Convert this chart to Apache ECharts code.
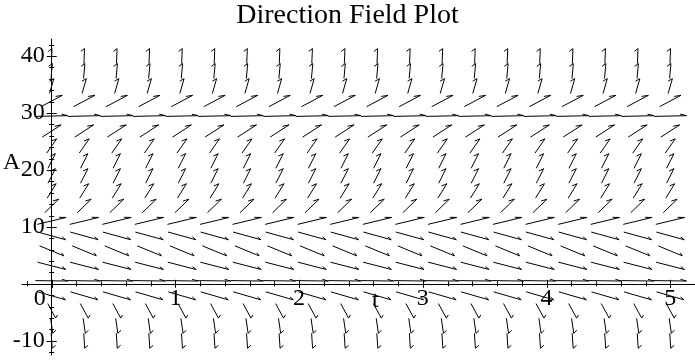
<!DOCTYPE html>
<html>
<head>
<meta charset="utf-8">
<title>Direction Field Plot</title>
<script src="https://cdn.jsdelivr.net/npm/echarts@6/dist/echarts.min.js"></script>
<style>
  html, body { margin: 0; padding: 0; background: #fff; }
  #chart { width: 695px; height: 361px; }
</style>
</head>
<body>
<div id="chart"></div>
<script>
// Sample times of the arrow columns
const tValues = [0, 0.263, 0.526, 0.789, 1.053, 1.316, 1.579, 1.842, 2.105, 2.368,
                 2.632, 2.895, 3.158, 3.421, 3.684, 3.947, 4.211, 4.474, 4.737, 5];
// Sample levels of A for the arrow rows
const aValues = [-10, -7.37, -4.74, -2.11, 0.53, 3.16, 5.79, 8.42, 11.05, 13.68,
                 16.32, 18.95, 21.58, 24.21, 26.84, 29.47, 32.11, 34.74, 37.37, 40];
// dA/dt on each row (the field does not depend on t)
const slopes = [-330, -150, -40, -6.3, -0.3, -5.6, -9, -6, 5.2, 21,
                35, 43, 43, 31, 14, 0.5, 11.5, 76, 235, 540];
// Tick labels
const tTickLabels = [0, 1, 2, 3, 4, 5];
const aTickLabels = [-10, 10, 20, 30, 40];

const T_MIN = -0.24, T_MAX = 5.2;
const A_MIN = -12.5, A_MAX = 43;
const GRID = { left: 22, right: 0, top: 39, bottom: 6 };
const W = 695, H = 361;
const DT = (tValues[tValues.length - 1] - tValues[0]) / (tValues.length - 1);
const DA = (aValues[aValues.length - 1] - aValues[0]) / (aValues.length - 1);
const ARROW_LEN = 1.0;   // arrow length, in grid cells
const HEAD_LEN = 0.22;   // barb length, in grid cells
const FONT = '"Liberation Serif", "Times New Roman", serif';
const LABEL_SIZE = 24;

// Axes cross at the origin: shift them in from the grid edges
const plotW = W - GRID.left - GRID.right;
const plotH = H - GRID.top - GRID.bottom;
const yAxisShift = (0 - T_MIN) / (T_MAX - T_MIN) * plotW;
const xAxisShift = (0 - A_MIN) / (A_MAX - A_MIN) * plotH;

const fieldData = [];
tValues.forEach(t => {
  aValues.forEach((a, i) => fieldData.push([t, a, slopes[i]]));
});

// One arrow, centred on its grid point, sized in cell units
function renderArrow(params, api) {
  const t = api.value(0), a = api.value(1), f = api.value(2);
  const c = api.coord([t, a]);
  const cell = api.size([DT, DA]);
  let u = 1 / DT, w = f / DA;
  const n = Math.hypot(u, w);
  u /= n; w /= n;
  const vx = u * cell[0] * ARROW_LEN, vy = -w * cell[1] * ARROW_LEN;
  const x1 = c[0] - vx / 2, y1 = c[1] - vy / 2;
  const x2 = c[0] + vx / 2, y2 = c[1] + vy / 2;
  // single barb: reversed direction turned 30 degrees clockwise
  const ang = -Math.PI / 6;
  const ru = -u * Math.cos(ang) + w * Math.sin(ang);
  const rw = -u * Math.sin(ang) - w * Math.cos(ang);
  const hx = x2 + ru * cell[0] * HEAD_LEN, hy = y2 - rw * cell[1] * HEAD_LEN;
  return {
    type: 'polyline',
    shape: { points: [[x1, y1], [x2, y2], [hx, hy]] },
    style: { stroke: '#000', fill: null, lineWidth: 1 }
  };
}

// Tick marks crossing both axes
function renderTicks(params, api) {
  const children = [];
  const stroke = { stroke: '#000', lineWidth: 1 };
  for (let k = -1; k <= 26; k++) {
    const t = k * 0.2;
    const p = api.coord([t, 0]);
    const x = Math.round(p[0]) + 0.5;
    const h = (k % 5 === 0) ? 4 : 2.5;
    children.push({ type: 'line', shape: { x1: x, y1: p[1] - h, x2: x, y2: p[1] + h }, style: stroke });
  }
  for (let k = -6; k <= 21; k++) {
    const a = k * 2;
    const p = api.coord([0, a]);
    const y = Math.round(p[1]) + 0.5;
    const h = (k % 5 === 0) ? 5 : 2.5;
    children.push({ type: 'line', shape: { x1: p[0] - h, y1: y, x2: p[0] + h, y2: y }, style: stroke });
  }
  return { type: 'group', children };
}

const chart = echarts.init(document.getElementById('chart'), null, { renderer: 'canvas' });
chart.setOption({
  animation: false,
  backgroundColor: '#fff',
  title: {
    text: 'Direction Field Plot',
    left: 'center',
    top: -3,
    textStyle: { fontFamily: FONT, fontSize: 28, fontWeight: 'normal', color: '#000' }
  },
  grid: Object.assign({ containLabel: false, outerBoundsMode: 'none' }, GRID),
  xAxis: {
    type: 'value',
    min: T_MIN, max: T_MAX,
    position: 'bottom',
    offset: -xAxisShift,
    axisLine: { show: true, onZero: false, lineStyle: { color: '#000', width: 1 } },
    axisTick: { show: false },
    splitLine: { show: false },
    axisLabel: {
      show: true,
      customValues: tTickLabels,
      margin: 3,
      fontFamily: FONT, fontSize: LABEL_SIZE, color: '#000',
      formatter: v => v === 0 ? '{z|0}' : '{n|' + v + '}',
      rich: {
        z: { fontFamily: FONT, fontSize: LABEL_SIZE, color: '#000', padding: [0, 24, 0, 0] },
        n: { fontFamily: FONT, fontSize: LABEL_SIZE, color: '#000' }
      }
    }
  },
  yAxis: {
    type: 'value',
    min: A_MIN, max: A_MAX,
    position: 'left',
    offset: -yAxisShift,
    axisLine: { show: true, onZero: false, lineStyle: { color: '#000', width: 1 } },
    axisTick: { show: false },
    splitLine: { show: false },
    axisLabel: {
      show: true,
      customValues: aTickLabels,
      margin: 7,
      fontFamily: FONT, fontSize: LABEL_SIZE, color: '#000'
    }
  },
  graphic: [
    { type: 'text', left: 3, top: 151, style: { text: 'A', font: LABEL_SIZE + 'px ' + FONT, fill: '#000' } },
    { type: 'text', left: 372, top: 289, style: { text: 't', font: LABEL_SIZE + 'px ' + FONT, fill: '#000' } }
  ],
  series: [
    {
      type: 'custom',
      name: 'ticks',
      data: [[0, 0]],
      renderItem: renderTicks,
      silent: true,
      clip: false
    },
    {
      type: 'custom',
      name: 'field',
      data: fieldData,
      renderItem: renderArrow,
      silent: true,
      clip: false
    }
  ]
});
</script>
</body>
</html>
